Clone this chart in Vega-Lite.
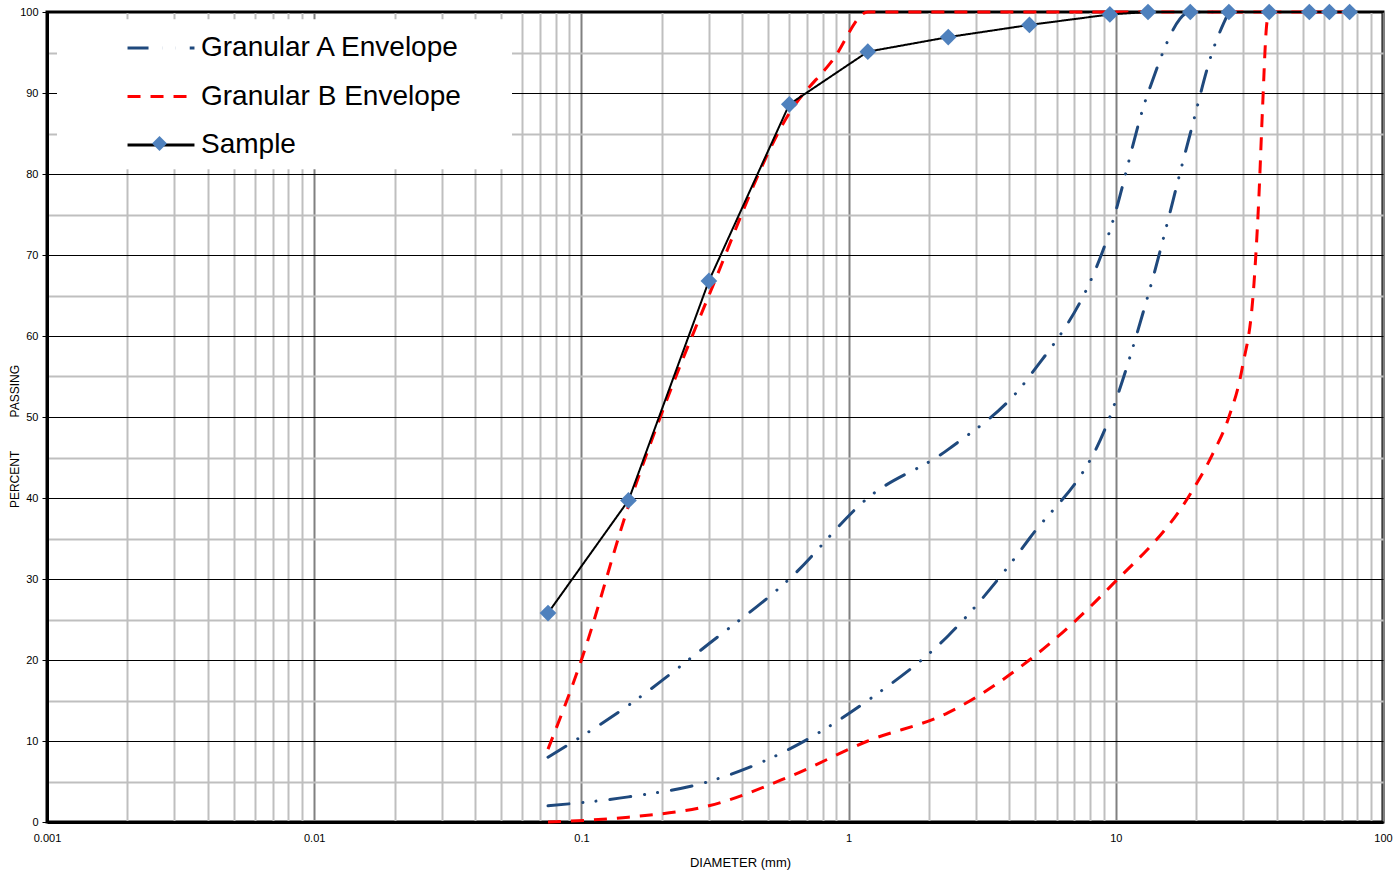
{
  "$schema": "https://vega.github.io/schema/vega-lite/v6.json",
  "width": 1336,
  "height": 810,
  "autosize": "none",
  "padding": {"left": 47, "top": 12, "right": 10, "bottom": 48},
  "background": "white",
  "config": {
    "font": "Liberation Sans",
    "view": {"stroke": "#000000", "strokeWidth": 3},
    "axis": {"labelFont": "Liberation Sans", "titleFont": "Liberation Sans", "labelColor": "#000000", "titleColor": "#000000", "titleFontWeight": "normal"}
  },
  "datasets": {
    "env": [
      {"series": "Granular A Envelope", "curve": "A_fine", "d": 0.075, "p": 8},
      {"series": "Granular A Envelope", "curve": "A_fine", "d": 0.15, "p": 14.4},
      {"series": "Granular A Envelope", "curve": "A_fine", "d": 0.3, "p": 22},
      {"series": "Granular A Envelope", "curve": "A_fine", "d": 0.6, "p": 30},
      {"series": "Granular A Envelope", "curve": "A_fine", "d": 1.18, "p": 40},
      {"series": "Granular A Envelope", "curve": "A_fine", "d": 2.36, "p": 46},
      {"series": "Granular A Envelope", "curve": "A_fine", "d": 4.75, "p": 55},
      {"series": "Granular A Envelope", "curve": "A_fine", "d": 9.5, "p": 73},
      {"series": "Granular A Envelope", "curve": "A_fine", "d": 13.2, "p": 90},
      {"series": "Granular A Envelope", "curve": "A_fine", "d": 19, "p": 100},
      {"series": "Granular A Envelope", "curve": "A_fine", "d": 26.5, "p": 100},
      {"series": "Granular A Envelope", "curve": "A_coarse", "d": 0.075, "p": 2},
      {"series": "Granular A Envelope", "curve": "A_coarse", "d": 0.15, "p": 3.1},
      {"series": "Granular A Envelope", "curve": "A_coarse", "d": 0.3, "p": 5},
      {"series": "Granular A Envelope", "curve": "A_coarse", "d": 0.6, "p": 9},
      {"series": "Granular A Envelope", "curve": "A_coarse", "d": 1.18, "p": 15},
      {"series": "Granular A Envelope", "curve": "A_coarse", "d": 2.36, "p": 23},
      {"series": "Granular A Envelope", "curve": "A_coarse", "d": 4.75, "p": 35},
      {"series": "Granular A Envelope", "curve": "A_coarse", "d": 9.5, "p": 50},
      {"series": "Granular A Envelope", "curve": "A_coarse", "d": 13.2, "p": 65},
      {"series": "Granular A Envelope", "curve": "A_coarse", "d": 19, "p": 85},
      {"series": "Granular A Envelope", "curve": "A_coarse", "d": 23.1, "p": 95.3},
      {"series": "Granular A Envelope", "curve": "A_coarse", "d": 26.5, "p": 100},
      {"series": "Granular B Envelope", "curve": "B_fine", "d": 0.075, "p": 9},
      {"series": "Granular B Envelope", "curve": "B_fine", "d": 0.1, "p": 20},
      {"series": "Granular B Envelope", "curve": "B_fine", "d": 0.15, "p": 39},
      {"series": "Granular B Envelope", "curve": "B_fine", "d": 0.2, "p": 50.5},
      {"series": "Granular B Envelope", "curve": "B_fine", "d": 0.3, "p": 65},
      {"series": "Granular B Envelope", "curve": "B_fine", "d": 0.6, "p": 87.5},
      {"series": "Granular B Envelope", "curve": "B_fine", "d": 0.874, "p": 94.1},
      {"series": "Granular B Envelope", "curve": "B_fine", "d": 1.18, "p": 100},
      {"series": "Granular B Envelope", "curve": "B_fine", "d": 4.75, "p": 100},
      {"series": "Granular B Envelope", "curve": "B_fine", "d": 26.5, "p": 100},
      {"series": "Granular B Envelope", "curve": "B_fine", "d": 37.5, "p": 100},
      {"series": "Granular B Envelope", "curve": "B_coarse", "d": 0.075, "p": 0},
      {"series": "Granular B Envelope", "curve": "B_coarse", "d": 0.15, "p": 0.6},
      {"series": "Granular B Envelope", "curve": "B_coarse", "d": 0.3, "p": 2},
      {"series": "Granular B Envelope", "curve": "B_coarse", "d": 0.6, "p": 5.6},
      {"series": "Granular B Envelope", "curve": "B_coarse", "d": 1.18, "p": 10},
      {"series": "Granular B Envelope", "curve": "B_coarse", "d": 2.36, "p": 13.5},
      {"series": "Granular B Envelope", "curve": "B_coarse", "d": 4.75, "p": 20},
      {"series": "Granular B Envelope", "curve": "B_coarse", "d": 9.5, "p": 29},
      {"series": "Granular B Envelope", "curve": "B_coarse", "d": 19, "p": 40.5},
      {"series": "Granular B Envelope", "curve": "B_coarse", "d": 23.1, "p": 45.5},
      {"series": "Granular B Envelope", "curve": "B_coarse", "d": 26.5, "p": 50},
      {"series": "Granular B Envelope", "curve": "B_coarse", "d": 29.7, "p": 56},
      {"series": "Granular B Envelope", "curve": "B_coarse", "d": 32.9, "p": 66.5},
      {"series": "Granular B Envelope", "curve": "B_coarse", "d": 34.3, "p": 77},
      {"series": "Granular B Envelope", "curve": "B_coarse", "d": 35.4, "p": 88},
      {"series": "Granular B Envelope", "curve": "B_coarse", "d": 36.6, "p": 98},
      {"series": "Granular B Envelope", "curve": "B_coarse", "d": 37.5, "p": 100},
      {"series": "Granular B Envelope", "curve": "B_coarse", "d": 53, "p": 100},
      {"series": "Granular B Envelope", "curve": "B_coarse", "d": 75, "p": 100}
    ],
    "sample": [
      {"series": "Sample", "d": 0.075, "p": 25.8},
      {"series": "Sample", "d": 0.15, "p": 39.7},
      {"series": "Sample", "d": 0.3, "p": 66.8},
      {"series": "Sample", "d": 0.6, "p": 88.6},
      {"series": "Sample", "d": 1.18, "p": 95.1},
      {"series": "Sample", "d": 2.36, "p": 96.9},
      {"series": "Sample", "d": 4.75, "p": 98.4},
      {"series": "Sample", "d": 9.5, "p": 99.7},
      {"series": "Sample", "d": 13.2, "p": 100},
      {"series": "Sample", "d": 19, "p": 100},
      {"series": "Sample", "d": 26.5, "p": 100},
      {"series": "Sample", "d": 37.5, "p": 100},
      {"series": "Sample", "d": 53, "p": 100},
      {"series": "Sample", "d": 63, "p": 100},
      {"series": "Sample", "d": 75, "p": 100}
    ]
  },
  "layer": [
    {
      "data": {"name": "env"},
      "transform": [{"filter": "datum.series === 'Granular A Envelope'"}],
      "mark": {"type": "line", "interpolate": "monotone", "strokeWidth": 3, "strokeCap": "round"},
      "encoding": {
        "x": {
          "field": "d", "type": "quantitative",
          "scale": {"type": "log", "domain": [0.001, 100], "nice": false},
          "axis": {
            "values": [0.001,0.002,0.003,0.004,0.005,0.006,0.007,0.008,0.009,0.01,0.02,0.03,0.04,0.05,0.06,0.07,0.08,0.09,0.1,0.2,0.3,0.4,0.5,0.6,0.7,0.8,0.9,1,2,3,4,5,6,7,8,9,10,20,30,40,50,60,70,80,90,100],
            "format": "~g",
            "labelExpr": "abs(log(datum.value)/LN10 - round(log(datum.value)/LN10)) < 0.0001 ? datum.label : ''",
            "labelOverlap": false,
            "labelFlush": false,
            "labelFontSize": 11,
            "labelPadding": 10,
            "ticks": false,
            "grid": true,
            "gridColor": {"condition": {"test": "abs(log(datum.value)/LN10 - round(log(datum.value)/LN10)) < 0.0001", "value": "#808080"}, "value": "#BFBFBF"},
            "gridWidth": 2,
            "domainColor": "#000000",
            "domainWidth": 3,
            "title": "DIAMETER (mm)",
            "titleFontSize": 13,
            "titleX": 693,
            "titleY": 40,
            "titleAlign": "center",
            "titleBaseline": "middle"
          }
        },
        "y": {
          "field": "p", "type": "quantitative",
          "scale": {"domain": [0, 100], "nice": false},
          "axis": {
            "values": [0,5,10,15,20,25,30,35,40,45,50,55,60,65,70,75,80,85,90,95,100],
            "labelExpr": "datum.value % 10 === 0 ? datum.label : ''",
            "labelFontSize": 11,
            "labelPadding": 4,
            "tickSize": 5,
            "tickColor": {"condition": {"test": "datum.value % 10 === 0", "value": "#000000"}, "value": "transparent"},
            "tickWidth": 1,
            "grid": true,
            "gridColor": {"condition": {"test": "datum.value % 10 === 0", "value": "#000000"}, "value": "#BFBFBF"},
            "gridWidth": {"condition": {"test": "datum.value % 10 === 0", "value": 1}, "value": 2},
            "domainColor": "#000000",
            "domainWidth": 3,
            "title": "PERCENT\u00a0\u00a0\u00a0\u00a0\u00a0\u00a0\u00a0\u00a0\u00a0\u00a0PASSING",
            "titleFontSize": 12,
            "titleAngle": 270,
            "titleX": -33,
            "titleY": 424,
            "titleAlign": "center",
            "titleBaseline": "middle"
          }
        },
        "detail": {"field": "curve"},
        "color": {
          "field": "series", "type": "nominal",
          "scale": {"domain": ["Granular A Envelope", "Granular B Envelope", "Sample"], "range": ["#1F497D", "#FF0000", "#000000"]},
          "legend": {
            "orient": "none", "legendX": 100, "legendY": 22, "title": null,
            "direction": "vertical",
            "symbolType": "M-3,0H3", "symbolSize": 498, "symbolStrokeWidth": 3,
            "labelFontSize": 28, "labelFont": "Liberation Sans", "labelColor": "#000000", "labelLimit": 600,
            "labelOffset": 26, "rowPadding": 20.5, "padding": 0
          }
        },
        "strokeDash": {
          "field": "series", "type": "nominal",
          "scale": {"domain": ["Granular A Envelope", "Granular B Envelope", "Sample"], "range": [[21, 14, 0.1, 13, 0.1, 14], [13, 10], [1, 0]]}
        }
      }
    },
    {
      "data": {"name": "env"},
      "transform": [{"filter": "datum.series === 'Granular B Envelope'"}],
      "mark": {"type": "line", "interpolate": "monotone", "strokeWidth": 3, "strokeCap": "butt"},
      "encoding": {
        "x": {"field": "d", "type": "quantitative"},
        "y": {"field": "p", "type": "quantitative"},
        "detail": {"field": "curve"},
        "color": {"field": "series", "type": "nominal"},
        "strokeDash": {"field": "series", "type": "nominal"}
      }
    },
    {
      "data": {"name": "sample"},
      "mark": {"type": "line", "strokeWidth": 2},
      "encoding": {
        "x": {"field": "d", "type": "quantitative"},
        "y": {"field": "p", "type": "quantitative"},
        "color": {"field": "series", "type": "nominal"},
        "strokeDash": {"field": "series", "type": "nominal"}
      }
    },
    {
      "data": {"name": "sample"},
      "mark": {"type": "point", "filled": true, "fill": "#4F81BD", "size": 280, "strokeWidth": 0, "opacity": 1},
      "encoding": {
        "x": {"field": "d", "type": "quantitative"},
        "y": {"field": "p", "type": "quantitative"},
        "shape": {
          "field": "series", "type": "nominal",
          "scale": {"domain": ["Sample"], "range": ["diamond"]},
          "legend": {
            "orient": "none", "legendX": 105, "legendY": 124, "title": null,
            "symbolSize": 225, "symbolFillColor": "#4F81BD", "symbolStrokeColor": "#4F81BD", "symbolStrokeWidth": 0, "symbolOpacity": 1,
            "labelExpr": "''", "labelOpacity": 0, "labelFontSize": 10, "padding": 0
          }
        }
      }
    },
    {
      "data": {"values": [{}]},
      "mark": {"type": "rect", "fill": "#FFFFFF"},
      "encoding": {
        "x": {"datum": 0.00109, "type": "quantitative"},
        "x2": {"datum": 0.055},
        "y": {"datum": 99.1, "type": "quantitative"},
        "y2": {"datum": 80.6}
      }
    }
  ]
}
